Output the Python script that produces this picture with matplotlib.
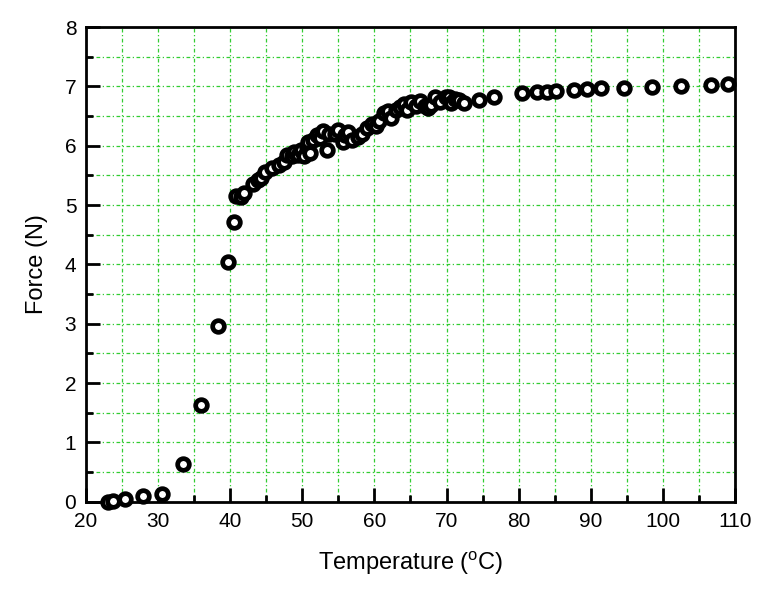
import numpy as np
import matplotlib
matplotlib.use("Agg")
import matplotlib.pyplot as plt
from matplotlib.ticker import MultipleLocator

plt.rcParams['font.family'] = ['Liberation Sans', 'DejaVu Sans']
plt.rcParams['mathtext.default'] = 'regular'

# Temperature (C) and force (N)
temperature = [23.0, 23.7, 25.4, 27.9, 30.5, 33.4, 36.0, 38.3, 39.7, 40.5,
               40.8, 41.5, 41.9, 43.2, 43.9, 44.3, 44.8, 45.8, 46.8, 47.5,
               47.9, 48.5, 48.9, 49.4, 49.8, 50.2, 50.6, 50.8, 51.0, 51.5,
               52.0, 52.4, 52.9, 53.4, 53.7, 54.5, 55.0, 55.6, 55.9, 56.3,
               56.9, 57.7, 58.3, 59.0, 59.7, 60.2, 60.6, 61.3, 61.9, 62.3,
               63.0, 63.5, 64.1, 64.5, 65.1, 65.8, 66.3, 67.0, 67.4, 67.9,
               68.4, 69.1, 69.9, 70.3, 70.6, 71.2, 71.7, 72.4, 74.5, 76.6,
               80.5, 82.6, 84.0, 85.2, 87.7, 89.5, 91.4, 94.6, 98.5, 102.5,
               106.7, 109.0]
force = [0.00, 0.02, 0.05, 0.09, 0.14, 0.64, 1.64, 2.96, 4.04, 4.71,
         5.15, 5.13, 5.20, 5.35, 5.42, 5.45, 5.56, 5.62, 5.67, 5.72,
         5.84, 5.82, 5.89, 5.84, 5.93, 5.82, 5.98, 6.06, 5.87, 6.09,
         6.18, 6.13, 6.25, 5.93, 6.20, 6.20, 6.26, 6.06, 6.18, 6.23,
         6.09, 6.14, 6.20, 6.30, 6.36, 6.33, 6.41, 6.55, 6.58, 6.46,
         6.60, 6.65, 6.70, 6.60, 6.73, 6.67, 6.75, 6.67, 6.63, 6.68,
         6.82, 6.73, 6.82, 6.83, 6.72, 6.78, 6.77, 6.72, 6.77, 6.82,
         6.89, 6.90, 6.90, 6.92, 6.94, 6.95, 6.97, 6.97, 6.99, 7.00,
         7.02, 7.04]

fig = plt.figure(figsize=(7.68, 5.89), dpi=100)
ax = fig.add_axes([0.112, 0.148, 0.845, 0.806])

ax.plot(temperature, force, "o", markersize=8.4, markerfacecolor="white",
        markeredgecolor="black", markeredgewidth=3.4, linestyle="none",
        zorder=3, clip_on=False)

ax.set_xlim(20, 110)
ax.set_ylim(0, 8)
ax.xaxis.set_major_locator(MultipleLocator(10))
ax.xaxis.set_minor_locator(MultipleLocator(5))
ax.yaxis.set_major_locator(MultipleLocator(1))
ax.yaxis.set_minor_locator(MultipleLocator(0.5))

ax.grid(which="both", color="#33cc33", linestyle=(0, (3, 2, 1, 2)),
        linewidth=0.9)
ax.set_axisbelow(True)

for spine in ax.spines.values():
    spine.set_linewidth(2)
ax.tick_params(which="both", direction="in", top=False, right=False,
               width=2, labelsize=15)
ax.tick_params(which="major", length=10, pad=7)
ax.tick_params(which="minor", length=5)

ax.set_xlabel("Temperature ($^{o}$C)", fontsize=17, labelpad=14)
ax.set_ylabel("Force (N)", fontsize=17, labelpad=12)

fig.savefig("out.png", dpi=100)
